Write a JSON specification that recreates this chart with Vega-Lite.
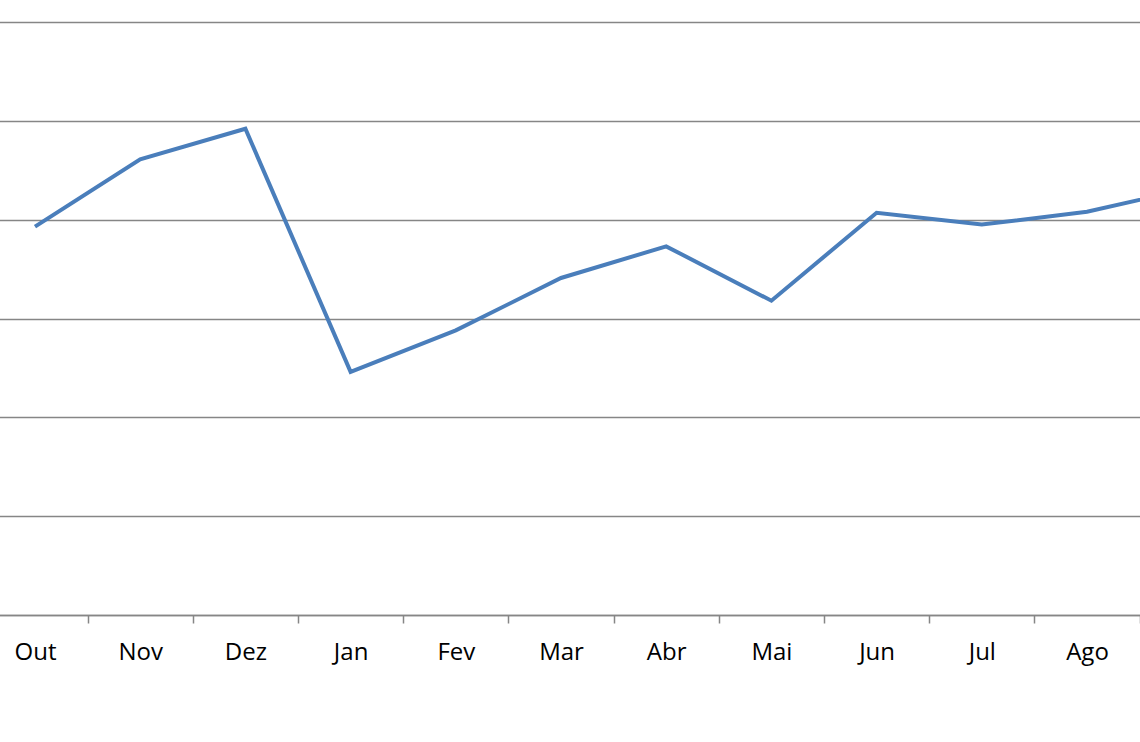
{
  "$schema": "https://vega.github.io/schema/vega-lite/v6.json",
  "autosize": {"type": "none"},
  "padding": {"left": 0, "top": 22, "right": 0, "bottom": 127},
  "width": 1140,
  "height": 593,
  "background": "white",
  "config": {"view": {"stroke": null}},
  "data": {"values": [
    {"month": "Out", "value": 39.3},
    {"month": "Nov", "value": 46.1},
    {"month": "Dez", "value": 49.2},
    {"month": "Jan", "value": 24.6},
    {"month": "Fev", "value": 28.8},
    {"month": "Mar", "value": 34.1},
    {"month": "Abr", "value": 37.3},
    {"month": "Mai", "value": 31.8},
    {"month": "Jun", "value": 40.7},
    {"month": "Jul", "value": 39.5},
    {"month": "Ago", "value": 40.8},
    {"month": "Set", "value": 43.2}
  ]},
  "mark": {"type": "line", "color": "#4a7ebb", "strokeWidth": 4, "clip": true},
  "encoding": {
    "x": {
      "field": "month", "type": "ordinal", "sort": null, "bandPosition": 0.5,
      "scale": {"type": "band", "range": [-17.6, 1244.8], "paddingInner": 0, "paddingOuter": 0},
      "axis": {
        "title": null, "domain": true, "domainColor": "#868686", "domainWidth": 1.5,
        "tickBand": "extent", "tickColor": "#868686",
        "tickWidth": 1.5, "tickSize": 8, "labelAngle": 0, "labelFont": "Open Sans",
        "labelFontSize": 24, "labelColor": "#000000", "labelPadding": 17,
        "labelExpr": "datum.value === 'Set' ? '' : datum.label",
        "labelBound": false, "labelOverlap": false, "labelFlush": false
      }
    },
    "y": {
      "field": "value", "type": "quantitative",
      "scale": {"domain": [0, 60], "nice": false, "zero": true},
      "axis": {
        "title": null, "labels": false, "ticks": false, "domain": false,
        "grid": true, "gridColor": "#868686", "gridWidth": 1.5, "gridOpacity": 1,
        "values": [0, 10, 20, 30, 40, 50, 60]
      }
    }
  }
}
